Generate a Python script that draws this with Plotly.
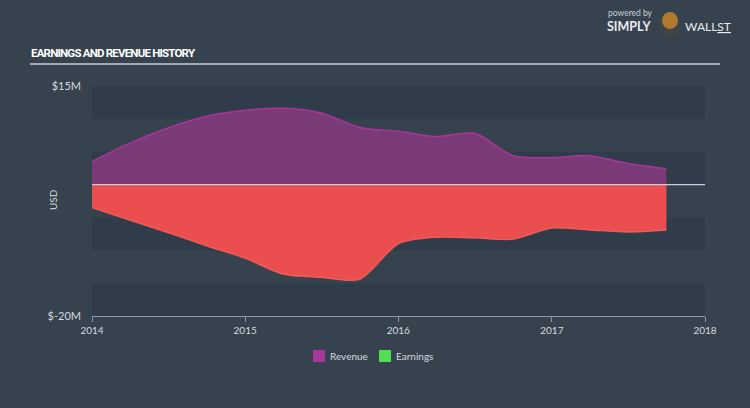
import plotly.graph_objects as go

# ---- data ----
dates = ["2014-01-01", "2014-04-01", "2014-07-01", "2014-10-01", "2015-01-01", "2015-04-01",
         "2015-07-01", "2015-10-01", "2016-01-01", "2016-04-01", "2016-07-01", "2016-10-01",
         "2017-01-01", "2017-04-01", "2017-07-01", "2017-10-01"]
revenue = [3.5, 6.3, 8.6, 10.4, 11.3, 11.6, 10.9, 8.7, 8.1, 7.3, 7.8, 4.4, 4.1, 4.4, 3.2, 2.4]
earnings = [-3.5, -5.4, -7.3, -9.3, -11.2, -13.6, -14.1, -14.4, -9.0, -8.0, -8.1, -8.3, -6.6, -6.9, -7.2, -6.9]
revenue = [v * 1e6 for v in revenue]
earnings = [v * 1e6 for v in earnings]
series_names = ["Revenue", "Earnings"]
legend_colors = ["#a8389a", "#4fe04f"]
y_ticks = [15e6, -20e6]
y_tick_text = ["$15M", "$-20M"]
x_ticks = ["2014-01-01", "2015-01-01", "2016-01-01", "2017-01-01", "2018-01-01"]
x_tick_text = ["2014", "2015", "2016", "2017", "2018"]

BG = "#36434f"
BAND = "#303c4a"
REV_FILL = "#7a3977"
REV_LINE = "#a8369b"
EARN_FILL = "#ea4e4f"
EARN_LINE = "#f25a55"
TXT = "#d5d9de"
FONT = "Lato"

L, R, T, B = 92, 705, 86, 316
W, H = R - L, B - T


def px(xp):
    return (xp - L) / W


def py(yp):
    return (B - yp) / H


fig = go.Figure()
fig.add_trace(go.Scatter(x=dates, y=revenue, mode="lines", fill="tozeroy", name=series_names[0],
                         fillcolor=REV_FILL, line=dict(color=REV_LINE, width=1.5, shape="spline", smoothing=0.8),
                         showlegend=False, hoverinfo="skip"))
fig.add_trace(go.Scatter(x=dates, y=earnings, mode="lines", fill="tozeroy", name=series_names[1],
                         fillcolor=EARN_FILL, line=dict(color=EARN_LINE, width=1.5, shape="spline", smoothing=0.8),
                         showlegend=False, hoverinfo="skip"))

shapes = []
# alternating bands every 5M
lo = -20e6
i = 0
while lo < 15e6:
    if i % 2 == 0:
        shapes.append(dict(type="rect", xref="paper", yref="y", x0=0, x1=1, y0=lo, y1=lo + 5e6,
                           fillcolor=BAND, line=dict(width=0), layer="below"))
    lo += 5e6
    i += 1
# zero line
shapes.append(dict(type="line", xref="paper", yref="y", x0=0, x1=1, y0=0, y1=0,
                   line=dict(color="#c7ced6", width=1.2), layer="above"))
# title underline
shapes.append(dict(type="line", xref="paper", yref="paper", x0=px(30), x1=px(720),
                   y0=py(64), y1=py(64), line=dict(color="#c5cad1", width=1.5)))

annotations = [
    dict(text="<b><span style='letter-spacing:-0.8px'>EARNINGS AND REVENUE HISTORY</span></b>",
         xref="paper", yref="paper",
         x=px(29), y=py(53), xanchor="left", yanchor="middle", showarrow=False,
         font=dict(family="Roboto, sans-serif", size=11.5, color="#ffffff")),
    dict(text="powered by", xref="paper", yref="paper", x=px(606), y=py(13),
         xanchor="left", yanchor="middle", showarrow=False, font=dict(family=FONT, size=8.5, color="#c8ced5")),
    dict(text="<b>SIMPLY</b>", xref="paper", yref="paper", x=px(605), y=py(27),
         xanchor="left", yanchor="middle", showarrow=False, font=dict(family=FONT, size=12.5, color="#e8ebee")),
    dict(text="WALL<u>ST</u>", xref="paper", yref="paper", x=px(683), y=py(27),
         xanchor="left", yanchor="middle", showarrow=False, font=dict(family=FONT, size=12, color="#e8ebee")),
    dict(text="USD", xref="paper", yref="paper", x=px(53), y=py(200),
         xanchor="center", yanchor="middle", textangle=-90, showarrow=False,
         font=dict(family=FONT, size=10, color=TXT)),
]

# logo placeholder (bull badge)
shapes.append(dict(type="circle", xref="paper", yref="paper",
                   x0=px(659), x1=px(681), y0=py(38), y1=py(16),
                   fillcolor="#40444a", line=dict(width=0)))
shapes.append(dict(type="circle", xref="paper", yref="paper",
                   x0=px(662), x1=px(678), y0=py(29), y1=py(12),
                   fillcolor="#b07a2e", line=dict(width=0)))

# custom legend
leg_x = [313, 379]
for name, col, lx in zip(series_names, legend_colors, leg_x):
    shapes.append(dict(type="rect", xref="paper", yref="paper", x0=px(lx), x1=px(lx + 12),
                       y0=py(362), y1=py(350), fillcolor=col, line=dict(width=0)))
    annotations.append(dict(text=name, xref="paper", yref="paper", x=px(lx + 15), y=py(356),
                            xanchor="left", yanchor="middle", showarrow=False,
                            font=dict(family=FONT, size=10, color=TXT)))

fig.update_layout(
    width=750, height=408,
    margin=dict(l=L, r=750 - R, t=T, b=408 - B),
    paper_bgcolor=BG, plot_bgcolor=BG,
    font=dict(family=FONT, color=TXT, size=11),
    shapes=shapes, annotations=annotations,
    showlegend=False,
    xaxis=dict(type="date", range=["2014-01-01", "2018-01-01"], tickvals=x_ticks, ticktext=x_tick_text,
               showgrid=False, zeroline=False, showline=True, linecolor="#8b9aab", linewidth=1,
               ticks="outside", ticklen=5, tickcolor="#8b9aab", tickfont=dict(size=10, color=TXT)),
    yaxis=dict(range=[-20e6, 15e6], tickvals=y_ticks, ticktext=y_tick_text, showgrid=False,
               zeroline=False, showline=False, ticks="", ticklabelstandoff=10,
               tickfont=dict(size=11, color=TXT)),
)

fig.write_html("out.html")
